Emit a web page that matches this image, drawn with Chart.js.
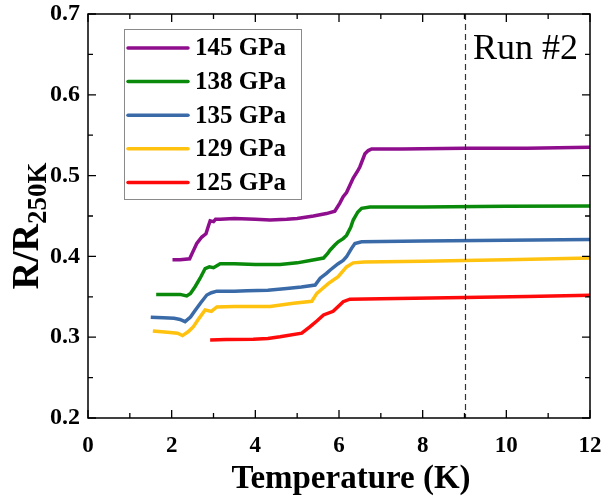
<!DOCTYPE html>
<html>
<head>
<meta charset="utf-8">
<script src="https://cdn.jsdelivr.net/npm/chart.js@4/dist/chart.umd.min.js"></script>
<style>
  html, body { margin: 0; padding: 0; background: #fff; }
  #wrap { width: 606px; height: 500px; }
</style>
</head>
<body>
<div id="wrap"><canvas id="chart" width="606" height="500"></canvas></div>
<script>
// --- data (T in K, R/R250K) ---
const labels = ["145 GPa", "138 GPa", "135 GPa", "129 GPa", "125 GPa"];
const colors = ["#8E0E8E", "#0A8A0A", "#3A6BA8", "#FFC20E", "#FF0A0A"];

const t145 = [2.02, 2.2, 2.43, 2.5, 2.6, 2.72, 2.82, 2.88, 2.92, 3.0, 3.05, 3.16, 3.5, 4.0, 4.35, 4.75, 5.0, 5.39, 5.7, 5.9, 6.02, 6.1, 6.18, 6.34, 6.45, 6.5, 6.62, 6.7, 6.78, 7.5, 9, 10.5, 12];
const r145 = [0.396, 0.396, 0.397, 0.405, 0.416, 0.424, 0.428, 0.438, 0.444, 0.443, 0.446, 0.446, 0.447, 0.446, 0.445, 0.446, 0.447, 0.450, 0.453, 0.456, 0.466, 0.474, 0.479, 0.497, 0.506, 0.511, 0.527, 0.531, 0.533, 0.533, 0.534, 0.534, 0.535];

const t138 = [1.63, 2.0, 2.2, 2.36, 2.45, 2.56, 2.68, 2.8, 2.9, 3.0, 3.16, 3.5, 4.0, 4.59, 5.0, 5.31, 5.63, 5.72, 5.79, 5.9, 5.98, 6.1, 6.18, 6.28, 6.34, 6.45, 6.54, 6.74, 8, 10, 12];
const r138 = [0.353, 0.353, 0.353, 0.351, 0.354, 0.3625, 0.373, 0.385, 0.387, 0.386, 0.391, 0.391, 0.390, 0.390, 0.392, 0.395, 0.398, 0.403, 0.408, 0.414, 0.418, 0.422, 0.426, 0.436, 0.445, 0.455, 0.4595, 0.461, 0.461, 0.462, 0.4625];

const t135 = [1.5, 1.8, 2.06, 2.2, 2.32, 2.45, 2.56, 2.7, 2.84, 2.95, 3.08, 3.5, 3.8, 4.3, 4.75, 5.1, 5.43, 5.55, 5.7, 5.79, 5.98, 6.1, 6.18, 6.3, 6.38, 6.54, 8, 10, 12];
const r135 = [0.3246, 0.324, 0.3235, 0.322, 0.3192, 0.325, 0.333, 0.343, 0.3522, 0.355, 0.357, 0.357, 0.3575, 0.358, 0.3603, 0.362, 0.3645, 0.373, 0.379, 0.3832, 0.391, 0.395, 0.3995, 0.41, 0.416, 0.418, 0.419, 0.42, 0.421];

const t129 = [1.55, 1.9, 2.14, 2.26, 2.4, 2.52, 2.65, 2.8, 2.95, 3.08, 3.5, 4.35, 4.91, 5.35, 5.47, 5.6, 5.75, 5.98, 6.18, 6.34, 6.6, 8, 10, 12];
const r129 = [0.3077, 0.306, 0.305, 0.302, 0.307, 0.313, 0.323, 0.3337, 0.332, 0.3375, 0.338, 0.338, 0.342, 0.3445, 0.3543, 0.36, 0.3666, 0.375, 0.387, 0.392, 0.393, 0.394, 0.396, 0.398];

const t125 = [2.92, 3.3, 3.95, 4.3, 4.59, 5.11, 5.31, 5.47, 5.63, 5.86, 6.0, 6.1, 6.26, 7, 9, 10.5, 12];
const r125 = [0.2966, 0.297, 0.2975, 0.2985, 0.3006, 0.305, 0.313, 0.32, 0.3275, 0.332, 0.339, 0.344, 0.347, 0.3475, 0.349, 0.3505, 0.352];

const xTicks = [0, 2, 4, 6, 8, 10, 12];
const yTicks = [0.2, 0.3, 0.4, 0.5, 0.6, 0.7];
const dashedAt = 9;
const runLabel = "Run #2";

const serif = "'Liberation Serif', 'DejaVu Serif', serif";

function pts(ts, rs) {
  return ts.map((t, i) => ({ x: t, y: rs[i] }));
}
const series = [[t145, r145], [t138, r138], [t135, r135], [t129, r129], [t125, r125]];

// === frame, inward ticks, dashed line, legend, titles ===
const decor = {
  id: 'decor',
  afterDatasetsDraw(chart) {
    const ctx = chart.ctx;
    const a = chart.chartArea;
    const xs = chart.scales.x, ys = chart.scales.y;
    ctx.save();

    // dashed vertical line
    ctx.strokeStyle = '#333';
    ctx.lineWidth = 1.2;
    ctx.setLineDash([6, 4]);
    const xd = Math.round(xs.getPixelForValue(dashedAt)) + 0.5;
    ctx.beginPath();
    ctx.moveTo(xd, a.top);
    ctx.lineTo(xd, a.bottom);
    ctx.stroke();
    ctx.setLineDash([]);

    // frame
    ctx.strokeStyle = '#000';
    ctx.lineWidth = 1.5;
    ctx.strokeRect(a.left, a.top, a.right - a.left, a.bottom - a.top);

    // ticks inward on four sides
    ctx.lineWidth = 1.3;
    ctx.beginPath();
    for (let v = 0; v <= 12; v += 1) {
      const p = xs.getPixelForValue(v);
      const len = v % 2 === 0 ? 8 : 5;
      ctx.moveTo(p, a.bottom); ctx.lineTo(p, a.bottom - len);
      ctx.moveTo(p, a.top); ctx.lineTo(p, a.top + len);
    }
    for (let k = 0; k <= 10; k++) {
      const v = 0.2 + k * 0.05;
      const p = ys.getPixelForValue(v);
      const len = k % 2 === 0 ? 8 : 5;
      ctx.moveTo(a.left, p); ctx.lineTo(a.left + len, p);
      ctx.moveTo(a.right, p); ctx.lineTo(a.right - len, p);
    }
    ctx.stroke();

    // legend box
    const lx = 124, ly = 29, lw = 177, lh = 170;
    ctx.fillStyle = '#fff';
    ctx.fillRect(lx, ly, lw, lh);
    ctx.strokeStyle = '#8a8a8a';
    ctx.lineWidth = 1;
    ctx.strokeRect(lx + 0.5, ly + 0.5, lw, lh);
    chart.data.datasets.forEach((ds, i) => {
      const y = 48 + i * 33.6;
      ctx.strokeStyle = ds.borderColor;
      ctx.lineWidth = 3.5;
      ctx.lineCap = 'round';
      ctx.beginPath();
      ctx.moveTo(128, y); ctx.lineTo(188, y);
      ctx.stroke();
      ctx.fillStyle = '#000';
      ctx.font = 'bold 25px ' + serif;
      ctx.textBaseline = 'middle';
      ctx.textAlign = 'left';
      ctx.fillText(ds.label, 195, y + 1);
    });

    // run label
    ctx.font = '36px ' + serif;
    ctx.textBaseline = 'alphabetic';
    ctx.fillText(runLabel, 473, 59);

    // x title
    ctx.font = 'bold 33px ' + serif;
    ctx.textAlign = 'center';
    ctx.fillText('Temperature (K)', 351, 488);

    // y title with subscript, rotated
    ctx.translate(38, 226);
    ctx.rotate(-Math.PI / 2);
    const main = 'R/R', sub = '250K';
    ctx.font = 'bold 38px ' + serif;
    const w1 = ctx.measureText(main).width;
    ctx.font = 'bold 27px ' + serif;
    const w2 = ctx.measureText(sub).width;
    const x0 = -(w1 + w2) / 2;
    ctx.textAlign = 'left';
    ctx.font = 'bold 38px ' + serif;
    ctx.fillText(main, x0, 0);
    ctx.font = 'bold 27px ' + serif;
    ctx.fillText(sub, x0 + w1, 8);

    ctx.restore();
  }
};

new Chart(document.getElementById('chart'), {
  type: 'line',
  data: {
    datasets: series.map((s, i) => ({
      label: labels[i],
      data: pts(s[0], s[1]),
      borderColor: colors[i],
      backgroundColor: colors[i],
      borderWidth: 3.5,
      pointRadius: 0,
      tension: 0,
      fill: false
    }))
  },
  options: {
    responsive: false,
    animation: false,
    layout: { padding: { left: 0, right: 16, top: 14, bottom: 0 } },
    plugins: {
      legend: { display: false },
      tooltip: { enabled: false }
    },
    scales: {
      x: {
        type: 'linear',
        min: 0, max: 12,
        afterBuildTicks: (s) => { s.ticks = xTicks.map(v => ({ value: v })); },
        afterFit: (s) => { s.height = 82; s.paddingLeft = 0; s.paddingRight = 0; },
        grid: { display: false, drawTicks: false },
        border: { display: false },
        ticks: {
          padding: 14,
          color: '#000',
          font: { family: serif, size: 23, weight: 'bold' },
          callback: (v) => String(v)
        }
      },
      y: {
        type: 'linear',
        min: 0.2, max: 0.7,
        afterBuildTicks: (s) => { s.ticks = yTicks.map(v => ({ value: v })); },
        afterFit: (s) => { s.width = 88; s.paddingTop = 0; s.paddingBottom = 0; },
        grid: { display: false, drawTicks: false },
        border: { display: false },
        ticks: {
          padding: 8,
          color: '#000',
          font: { family: serif, size: 24, weight: 'bold' },
          callback: (v) => v.toFixed(1)
        }
      }
    }
  },
  plugins: [decor]
});
</script>
</body>
</html>
